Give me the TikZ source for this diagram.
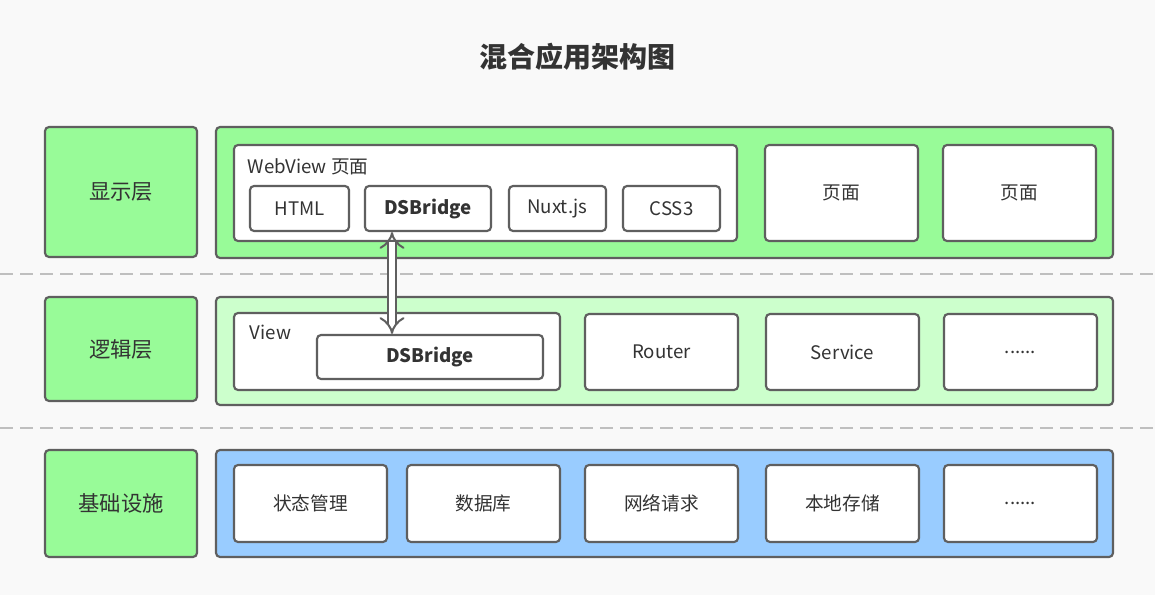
\documentclass[tikz,border=0pt]{standalone}
\usepackage{fontspec}
\setmainfont{Noto Sans CJK SC}
\usetikzlibrary{arrows.meta}
\definecolor{myedge}{RGB}{95,95,95}
\definecolor{mygreen}{RGB}{152,251,152}
\definecolor{mylight}{RGB}{204,255,204}
\definecolor{myblue}{RGB}{153,204,255}
\definecolor{mybg}{RGB}{249,249,249}
\tikzset{
    box/.style={draw=myedge, line width=1.6pt, rounded corners=3pt, fill=white, inner sep=0pt},
    layer/.style={box, fill=mygreen},
    txt/.style={font=\fontsize{14}{16}\selectfont, text=black!80},
    big/.style={font=\fontsize{16}{18}\selectfont, text=black!80},
}
\newcommand{\boxat}[6]{% name, x1, y1, x2, y2, style
    \node[#6, minimum width={(#4-#2)*0.75pt}, minimum height={(#5-#3)*0.75pt}] (#1) at ({(#2+#4)/2}, {(#3+#5)/2}) {};}
\begin{document}
\begin{tikzpicture}[x=0.75pt, y=-0.75pt]
    \fill[mybg] (0, 0) rectangle (1155, 595);
    \useasboundingbox (0, 0) rectangle (1155, 595);
    % Title
    \node[font=\fontsize{21}{24}\selectfont\bfseries, text=black!80] (title) at (577, 57) {混合应用架构图};
    % Separators
    \draw[gray!50, line width=1pt, dash pattern=on 10pt off 5pt] (0, 274) -- (1155, 274);
    \draw[gray!50, line width=1pt, dash pattern=on 10pt off 5pt] (0, 428) -- (1155, 428);
    % Layer names
    \boxat{show}{45}{127}{197}{257}{layer}
    \node[big] at (show) {显示层};
    \boxat{logic}{45}{297}{197}{401}{layer}
    \node[big] at (logic) {逻辑层};
    \boxat{base}{45}{450}{197}{557}{layer}
    \node[big] at (base) {基础设施};
    % Containers
    \boxat{showC}{216}{127}{1113}{258}{box, fill=mygreen}
    \boxat{logicC}{216}{297}{1113}{405}{box, fill=mylight}
    \boxat{baseC}{216}{450}{1113}{557}{box, fill=myblue}
    % Display layer
    \boxat{web}{234}{145}{737}{241}{box}
    \node[txt, anchor=west] (webL) at (243, 167) {WebView 页面};
    \boxat{html}{250}{186}{349}{231}{box}
    \node[txt] at (html) {HTML};
    \boxat{dsA}{365}{186}{491}{231}{box}
    \node[txt, font=\fontsize{14}{16}\selectfont\bfseries] at (dsA) {DSBridge};
    \boxat{nuxt}{509}{186}{606}{231}{box}
    \node[txt] at (nuxt) {Nuxt.js};
    \boxat{css}{623}{186}{720}{231}{box}
    \node[txt] at (css) {CSS3};
    \boxat{pageA}{765}{145}{918}{241}{box}
    \node[txt] at (pageA) {页面};
    \boxat{pageB}{943}{145}{1096}{241}{box}
    \node[txt] at (pageB) {页面};
    % Logic layer
    \boxat{view}{234}{313}{560}{390}{box}
    \node[txt, anchor=west] (viewL) at (245, 332) {View};
    \boxat{dsB}{317}{335}{543}{379}{box}
    \node[txt, font=\fontsize{14}{16}\selectfont\bfseries] at (dsB) {DSBridge};
    \boxat{router}{585}{314}{738}{390}{box}
    \node[txt] at (router) {Router};
    \boxat{service}{766}{314}{919}{390}{box}
    \node[txt] at (service) {Service};
    \boxat{more}{944}{314}{1097}{390}{box}
    \node[txt] at (more) {......};
    % Base layer
    \foreach \nm/\xa/\lbl in {state/234/{状态管理}, db/407/{数据库}, net/585/{网络请求}, store/766/{本地存储}, etc/944/{......}} {
        \boxat{\nm}{\xa}{465}{\xa+153}{542}{box}
        \node[txt] at (\nm) {\lbl};
    }
    % Bridge
    \coordinate (bridgeTop) at ([xshift=-27pt]dsA.south);
    \coordinate (bridgeBot) at (bridgeTop |- dsB.north);
    \draw[line width=1.5pt, myedge, double=white, double distance=5pt,
        {Implies[length=8pt]}-{Implies[length=8pt]}] (bridgeTop) -- (bridgeBot);
\end{tikzpicture}
\end{document}
